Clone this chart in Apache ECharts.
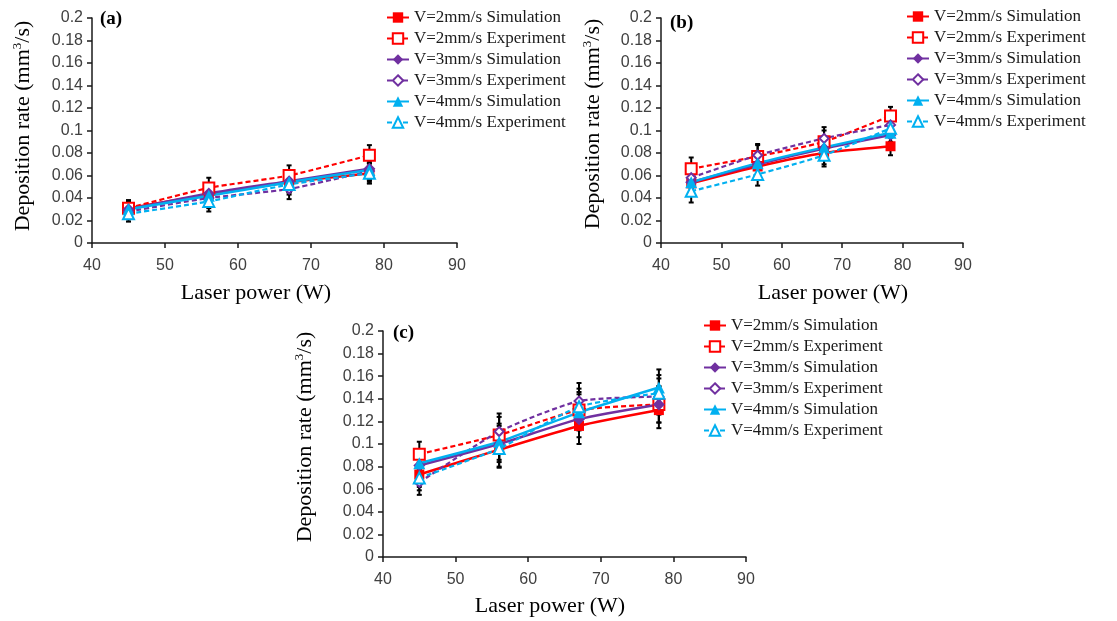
<!DOCTYPE html>
<html><head><meta charset="utf-8">
<script src="https://cdn.jsdelivr.net/npm/echarts@6/dist/echarts.min.js"></script>
<style>html,body{margin:0;padding:0;background:#fff}#c{width:1117px;height:621px}</style>
</head><body><div id="c"></div>
<script>
// ---- data ----
const powers = [45, 56, 67, 78];
const seriesNames = ['V=2mm/s Simulation','V=2mm/s Experiment','V=3mm/s Simulation','V=3mm/s Experiment','V=4mm/s Simulation','V=4mm/s Experiment'];
const panelLabels = ['(a)', '(b)', '(c)'];
const xTitle = 'Laser power (W)';
const yTitle = 'Deposition rate (mm{sup|3}/s)';

const aV2Sim = [0.031, 0.043, 0.054, 0.062];
const aV2Exp = [0.031, 0.049, 0.060, 0.078];
const aV3Sim = [0.030, 0.044, 0.055, 0.066];
const aV3Exp = [0.028, 0.040, 0.048, 0.064];
const aV4Sim = [0.030, 0.042, 0.054, 0.065];
const aV4Exp = [0.026, 0.037, 0.052, 0.062];
const aErr   = [0.007, 0.009, 0.009, 0.009];

const bV2Sim = [0.053, 0.068, 0.080, 0.086];
const bV2Exp = [0.066, 0.077, 0.090, 0.113];
const bV3Sim = [0.054, 0.070, 0.084, 0.096];
const bV3Exp = [0.058, 0.078, 0.093, 0.105];
const bV4Sim = [0.054, 0.071, 0.085, 0.098];
const bV4Exp = [0.046, 0.061, 0.078, 0.102];
const bErr   = [0.010, 0.010, 0.010, 0.008];

const cV2Sim = [0.073, 0.095, 0.116, 0.130];
const cV2Exp = [0.091, 0.108, 0.130, 0.135];
const cV3Sim = [0.081, 0.100, 0.122, 0.135];
const cV3Exp = [0.066, 0.111, 0.138, 0.142];
const cV4Sim = [0.083, 0.102, 0.128, 0.150];
const cV4Exp = [0.070, 0.096, 0.133, 0.145];
const cErr   = [0.011, 0.016, 0.016, 0.016];

const xMin = 40, xMax = 90, xStep = 10;
const yMin = 0, yMax = 0.2, yStep = 0.02;

// ---- styling / build ----
const SERIF = '"Liberation Serif","Times New Roman",serif';
const SANS = '"Liberation Sans",Arial,sans-serif';
const RED = '#FF0000', PURPLE = '#7030A0', BLUE = '#00B0F0';

const styles = [
  {color: RED, symbol: 'rect', size: 10, dashed: false},
  {color: RED, symbol: 'emptyRect', size: 11, dashed: true},
  {color: PURPLE, symbol: 'diamond', size: 12, dashed: false},
  {color: PURPLE, symbol: 'emptyDiamond', size: 9, dashed: true},
  {color: BLUE, symbol: 'triangle', size: 12, dashed: false},
  {color: BLUE, symbol: 'emptyTriangle', size: 11, dashed: true}
];

const panels = [
  {data: [aV2Sim, aV2Exp, aV3Sim, aV3Exp, aV4Sim, aV4Exp], err: aErr,
   grid: {left: 92, top: 18, width: 365, height: 225}, legend: {left: 386, top: 9},
   label: [100, 20], xt: [256, 293], yt: [23, 126]},
  {data: [bV2Sim, bV2Exp, bV3Sim, bV3Exp, bV4Sim, bV4Exp], err: bErr,
   grid: {left: 661, top: 18, width: 302, height: 225}, legend: {left: 906, top: 8},
   label: [670, 24], xt: [833, 293], yt: [593, 124]},
  {data: [cV2Sim, cV2Exp, cV3Sim, cV3Exp, cV4Sim, cV4Exp], err: cErr,
   grid: {left: 383, top: 331, width: 363, height: 226}, legend: {left: 703, top: 317},
   label: [393, 334], xt: [550, 606], yt: [305, 437]}
];

const grids = [], xAxes = [], yAxes = [], series = [], legends = [], graphics = [];

panels.forEach((p, pi) => {
  grids.push(Object.assign({containLabel: false}, p.grid));
  xAxes.push({
    type: 'value', gridIndex: pi, min: xMin, max: xMax, interval: xStep,
    axisLine: {show: true, lineStyle: {color: '#1a1a1a', width: 1.5}},
    axisTick: {show: true, inside: false, length: 5, lineStyle: {color: '#1a1a1a', width: 1.5}},
    axisLabel: {fontFamily: SANS, fontSize: 16, color: '#404040', margin: 15},
    splitLine: {show: false}
  });
  yAxes.push({
    type: 'value', gridIndex: pi, min: yMin, max: yMax, interval: yStep,
    axisLine: {show: true, lineStyle: {color: '#1a1a1a', width: 1.5}},
    axisTick: {show: true, inside: false, length: 5, lineStyle: {color: '#1a1a1a', width: 1.5}},
    axisLabel: {fontFamily: SANS, fontSize: 16, color: '#404040', margin: 9},
    splitLine: {show: false}
  });

  // error bars
  const errData = [];
  p.data.forEach(arr => arr.forEach((v, i) => errData.push([powers[i], v - p.err[i], v + p.err[i]])));
  series.push({
    type: 'custom', xAxisIndex: pi, yAxisIndex: pi, z: 1, silent: true,
    data: errData, encode: {x: 0, y: [1, 2]},
    renderItem: function (params, api) {
      const x = api.value(0);
      const lo = api.coord([x, api.value(1)]);
      const hi = api.coord([x, api.value(2)]);
      const c = 2.5;
      const st = {stroke: '#000', lineWidth: 2};
      return {type: 'group', children: [
        {type: 'line', shape: {x1: lo[0], y1: lo[1], x2: hi[0], y2: hi[1]}, style: st},
        {type: 'line', shape: {x1: lo[0] - c, y1: lo[1], x2: lo[0] + c, y2: lo[1]}, style: st},
        {type: 'line', shape: {x1: hi[0] - c, y1: hi[1], x2: hi[0] + c, y2: hi[1]}, style: st}
      ]};
    }
  });

  p.data.forEach((arr, si) => {
    const s = styles[si];
    series.push({
      name: seriesNames[si], type: 'line', xAxisIndex: pi, yAxisIndex: pi, z: 3,
      data: arr.map((v, i) => [powers[i], v]),
      smooth: 0.2, symbol: s.symbol, symbolSize: s.size, showSymbol: true,
      color: s.color,
      itemStyle: {color: s.color, borderWidth: s.dashed ? 1.8 : 0},
      lineStyle: {color: s.color, width: s.dashed ? 2.2 : 2.5, type: s.dashed ? [5, 3] : 'solid'},
      emphasis: {disabled: true}
    });
  });

  legends.push({
    orient: 'vertical', left: p.legend.left, top: p.legend.top, itemGap: 4, padding: 0,
    itemWidth: 22, itemHeight: 13,
    data: seriesNames.slice(),
    textStyle: {fontFamily: SERIF, fontSize: 17, lineHeight: 17, color: '#1a1a1a'}
  });

  graphics.push({
    type: 'text', left: p.label[0], top: p.label[1] - 10,
    style: {text: panelLabels[pi], font: 'bold 19px ' + SERIF, fill: '#000'}
  });
  graphics.push({
    type: 'text', x: p.xt[0], y: p.xt[1],
    style: {text: xTitle, font: '22px ' + SERIF, fill: '#000', align: 'center', verticalAlign: 'middle'}
  });
  graphics.push({
    type: 'text', x: p.yt[0], y: p.yt[1], rotation: Math.PI / 2,
    style: {text: yTitle, font: '22px ' + SERIF, fill: '#000', align: 'center', verticalAlign: 'middle',
      rich: {sup: {font: '13px ' + SERIF, fill: '#000', verticalAlign: 'top', lineHeight: 24}}}
  });
});

const chart = echarts.init(document.getElementById('c'), null, {renderer: 'canvas'});
chart.setOption({
  backgroundColor: '#fff',
  animation: false,
  grid: grids, xAxis: xAxes, yAxis: yAxes, series: series, legend: legends, graphic: graphics
});
</script>
</body></html>
